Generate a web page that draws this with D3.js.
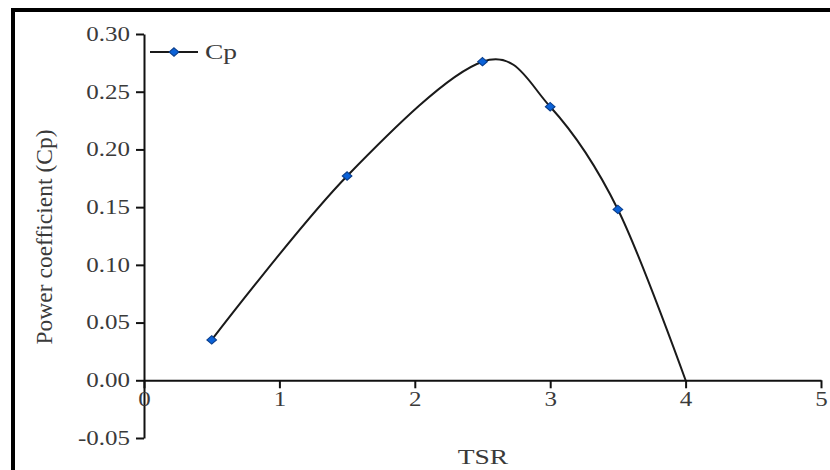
<!DOCTYPE html>
<html>
<head>
<meta charset="utf-8">
<script src="https://cdn.jsdelivr.net/npm/d3@7"></script>
<style>
  html, body { margin: 0; padding: 0; background: #fff; }
  svg text { font-family: "Liberation Serif", "Times New Roman", serif; fill: #3a3a3a; }
</style>
</head>
<body>
<svg id="chart" width="830" height="470"></svg>
<script>
// measured points (with markers)
const tsr = [0.5, 1.5, 2.5, 3.0, 3.5];
const cp = [0.035, 0.177, 0.276, 0.237, 0.148];
// curve runs on to the zero crossing (no marker there)
const curveEndTsr = [4.0];
const curveEndCp = [0.0];

const xTicks = [0, 1, 2, 3, 4, 5];
const yTicks = [-0.05, 0, 0.05, 0.10, 0.15, 0.20, 0.25, 0.30];
const seriesName = 'Cp';

const svg = d3.select('#chart');
const stretch = 1.25; // reference text looks stretched horizontally

const x = d3.scaleLinear().domain([0, 5]).range([144, 821]);
const y = d3.scaleLinear().domain([-0.05, 0.30]).range([438, 34]);

// frame (only top and left edges visible)
svg.append('line').attr('x1', 11).attr('x2', 830).attr('y1', 10).attr('y2', 10)
    .attr('stroke', '#000').attr('stroke-width', 4);
svg.append('line').attr('x1', 13).attr('x2', 13).attr('y1', 8).attr('y2', 470)
    .attr('stroke', '#000').attr('stroke-width', 4);

// y axis
const yAxis = svg.append('g')
    .attr('transform', `translate(${x(0)},0)`)
    .call(d3.axisLeft(y).tickValues(yTicks).tickSize(8).tickSizeOuter(0)
        .tickFormat((d) => d3.format('.2f')(d).replace('\u2212', '-')));
yAxis.selectAll('path, line').attr('stroke', '#111').attr('stroke-width', 2);
yAxis.selectAll('text')
    .attr('x', -14 / stretch)
    .attr('transform', `scale(${stretch},1)`)
    .attr('font-size', 20)
    .style('font-family', '"Liberation Serif", serif')
    .attr('fill', '#3a3a3a');

// x axis at y = 0
const xAxis = svg.append('g')
    .attr('transform', `translate(0,${y(0)})`)
    .call(d3.axisBottom(x).tickValues(xTicks).tickSize(8).tickSizeOuter(0).tickFormat(d3.format('d')));
xAxis.selectAll('path, line').attr('stroke', '#111').attr('stroke-width', 2);
xAxis.selectAll('text')
    .attr('y', 12)
    .attr('transform', `scale(${stretch},1)`)
    .attr('font-size', 20)
    .style('font-family', '"Liberation Serif", serif')
    .attr('fill', '#3a3a3a');

// axis titles
svg.append('text')
    .attr('transform', `translate(483,464) scale(${stretch},1)`)
    .attr('text-anchor', 'middle')
    .attr('font-size', 22)
    .text('TSR');

svg.append('text')
    .attr('transform', 'translate(52,237) rotate(-90)')
    .attr('text-anchor', 'middle')
    .attr('font-size', 23.5)
    .text('Power coefficient (Cp)');

// curve
const curvePts = tsr.map((t, i) => [t, cp[i]])
    .concat(curveEndTsr.map((t, i) => [t, curveEndCp[i]]));

const line = d3.line()
    .curve(d3.curveCardinal.tension(0))
    .x((d) => x(d[0]))
    .y((d) => y(d[1]));

svg.append('path')
    .datum(curvePts)
    .attr('d', line)
    .attr('fill', 'none')
    .attr('stroke', '#1a1a1a')
    .attr('stroke-width', 2);

// markers
const marker = d3.symbol().type(d3.symbolDiamond2).size(45);
svg.selectAll('.pt')
    .data(tsr.map((t, i) => [t, cp[i]]))
    .join('path')
    .attr('class', 'pt')
    .attr('d', marker)
    .attr('transform', (d) => `translate(${x(d[0])},${y(d[1])}) scale(1.15,1)`)
    .attr('fill', '#0b62d8')
    .attr('stroke', '#0a3d8a')
    .attr('stroke-width', 1);

// legend
const lg = svg.append('g').attr('transform', 'translate(150,52)');
lg.append('line').attr('x1', 0).attr('x2', 48).attr('y1', 0).attr('y2', 0)
    .attr('stroke', '#1a1a1a').attr('stroke-width', 2);
lg.append('path').attr('d', marker).attr('transform', 'translate(24,0) scale(1.15,1)')
    .attr('fill', '#0b62d8').attr('stroke', '#0a3d8a').attr('stroke-width', 1);
lg.append('text')
    .attr('transform', `translate(55,7) scale(${stretch},1)`)
    .attr('font-size', 22)
    .text(seriesName);
</script>
</body>
</html>
